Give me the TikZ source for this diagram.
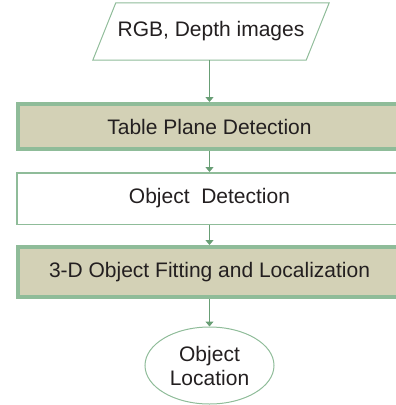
\documentclass[tikz,border=0pt]{standalone}
\usepackage{fontspec}
\setmainfont{Liberation Sans}
\usetikzlibrary{shapes.geometric,arrows.meta}
\definecolor{edge}{RGB}{143,188,153}
\definecolor{arr}{RGB}{104,158,117}
\definecolor{band}{RGB}{211,209,182}
\definecolor{ink}{RGB}{35,31,32}

\begin{document}
\begin{tikzpicture}[x=1pt,y=-1pt,
        font=\fontsize{21}{24}\selectfont, text=ink,
        io/.style={rectangle, minimum width=213pt, minimum height=57pt},
        box/.style={rectangle, draw=edge, line width=1.5pt,
                        minimum width=385pt, minimum height=51.5pt},
        hl/.style={box, fill=band, line width=4pt,
                        minimum width=383pt, minimum height=#1},
        term/.style={ellipse, draw=edge, line width=1pt, align=center,
                        inner sep=1pt, minimum width=129pt, minimum height=77pt},
        a/.style={draw=arr, line width=1pt,
                        -{Triangle[width=8pt,length=5pt]}}]
    \clip (0,0) rectangle (396,405);
    \node[io] (src) at (211,31.5) {RGB, Depth images};
    \draw[edge, line width=1pt]
        ([xshift=-11.5pt]src.south west) -- ([xshift=11.5pt]src.north west) --
        ([xshift=11.5pt]src.north east) -- ([xshift=-11.5pt]src.south east) -- cycle;
    \node[hl=45pt] (tbl) at (209.5,126.5) {Table Plane Detection};
    \node[box] (obj) at (209.5,198.5) {Object\ \ Detection};
    \node[hl=50pt] (fit) at (209.5,272) {3-D Object Fitting and Localization};
    \node[term] (loc) at (209.5,365.5) {Object\\Location};
    \draw[a] (tbl.north |- src.south) -- (tbl);
    \draw[a] (tbl) -- (obj);
    \draw[a] (obj) -- (fit);
    \draw[a] (fit) -- (loc);
\end{tikzpicture}
\end{document}
